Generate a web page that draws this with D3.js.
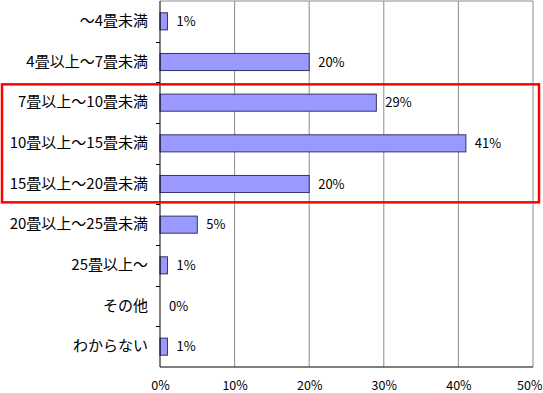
<!DOCTYPE html>
<html>
<head>
<meta charset="utf-8">
<script src="https://cdn.jsdelivr.net/npm/d3@7"></script>
<style>
body { margin: 0; background: #fff; }
svg { display: block; font-family: "Noto Sans CJK JP", sans-serif; }
</style>
</head>
<body>
<div id="chart"></div>
<script>
//data
var categories = ["～4畳未満", "4畳以上～7畳未満", "7畳以上～10畳未満", "10畳以上～15畳未満",
  "15畳以上～20畳未満", "20畳以上～25畳未満", "25畳以上～", "その他", "わからない"];
var values = [1, 20, 29, 41, 20, 5, 1, 0, 1];
var tickValues = [0, 10, 20, 30, 40, 50];
var highlighted = ["7畳以上～10畳未満", "10畳以上～15畳未満", "15畳以上～20畳未満"];

//dimensions
var W = 543, H = 393;
var margin = {top: 1, right: 10, bottom: 26, left: 160};
var width = W - margin.left - margin.right,
    height = H - margin.top - margin.bottom;

var svg = d3.select("#chart").append("svg")
  .attr("width", W).attr("height", H);

var g = svg.append("g")
  .attr("transform", "translate(" + margin.left + "," + margin.top + ")");

var x = d3.scaleLinear().domain([0, 50]).range([0, width]);
var y = d3.scaleBand().domain(categories).range([0, height]).paddingInner(0.58).paddingOuter(0.29);
var yb = d3.scaleBand().domain(categories).range([0, height]);

//gridlines
g.selectAll(".grid").data(tickValues.slice(1))
  .enter().append("line")
  .attr("x1", function(d){ return x(d); }).attr("x2", function(d){ return x(d); })
  .attr("y1", 0).attr("y2", height)
  .attr("stroke", "#8c8c8c").attr("stroke-width", 1);

//top border
g.append("line").attr("x1", 0).attr("x2", width).attr("y1", 0).attr("y2", 0)
  .attr("stroke", "#8c8c8c");

//bars
g.selectAll(".bar").data(values)
  .enter().append("rect")
  .attr("x", 0)
  .attr("y", function(d, i){ return y(categories[i]); })
  .attr("width", function(d){ return x(d); })
  .attr("height", y.bandwidth())
  .attr("fill", "#9999ff")
  .attr("stroke", "#333366")
  .attr("stroke-width", 1)
  .style("display", function(d){ return d > 0 ? null : "none"; });

//value labels
g.selectAll(".val").data(values)
  .enter().append("text")
  .attr("x", function(d){ return x(d) + 9; })
  .attr("y", function(d, i){ return y(categories[i]) + y.bandwidth() / 2; })
  .attr("dy", "0.35em")
  .attr("font-size", 13)
  .attr("fill", "#000")
  .text(function(d){ return d + "%"; });

//y axis
var yAxis = g.append("g")
  .call(d3.axisLeft(yb).tickSize(0).tickPadding(12))
  .call(function(s){ s.select(".domain").remove(); });
yAxis.selectAll("text").attr("font-size", 15).attr("fill", "#000")
  .style("font-family", "Noto Sans CJK JP");

//tick marks between categories
g.selectAll(".ytick").data(categories.slice(1))
  .enter().append("line")
  .attr("x1", -4).attr("x2", 0)
  .attr("y1", function(d){ return Math.round(yb(d)) + 0.5; })
  .attr("y2", function(d){ return Math.round(yb(d)) + 0.5; })
  .attr("stroke", "#000");

//x axis
var xAxis = g.append("g")
  .attr("transform", "translate(0," + height + ")")
  .call(d3.axisBottom(x).tickValues(tickValues).tickSize(0).tickPadding(14)
    .tickFormat(function(d){ return d + "%"; }))
  .call(function(s){ s.select(".domain").remove(); });
xAxis.selectAll("text").attr("font-size", 12.5).attr("fill", "#000")
  .style("font-family", "Noto Sans CJK JP");
xAxis.selectAll(".tick").filter(function(d){ return d === 50; }).select("text")
  .attr("text-anchor", "end").attr("x", 9);

//axis lines
g.append("line").attr("x1", 0).attr("x2", 0).attr("y1", 0).attr("y2", height)
  .attr("stroke", "#000");
g.append("line").attr("x1", 0).attr("x2", width).attr("y1", height).attr("y2", height)
  .attr("stroke", "#000");

//red highlight box
var top0 = yb(highlighted[0]), bot = yb(highlighted[highlighted.length - 1]) + yb.bandwidth();
svg.append("rect")
  .attr("x", 2).attr("y", margin.top + top0 + 2)
  .attr("width", 537).attr("height", bot - top0 - 4)
  .attr("fill", "none")
  .attr("stroke", "#ff0000")
  .attr("stroke-width", 2.5);
</script>
</body>
</html>
